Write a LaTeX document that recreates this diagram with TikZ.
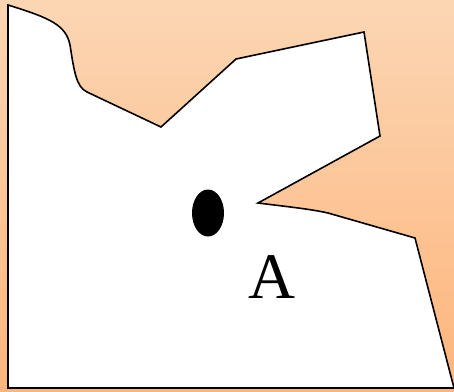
\documentclass[tikz,border=0pt]{standalone}
\usepackage{fontspec}
\setmainfont{Liberation Serif}
\usetikzlibrary{shapes.geometric}
\definecolor{peachtop}{RGB}{252,214,180}
\definecolor{peachmid}{RGB}{249,196,123}
\definecolor{peachbot}{RGB}{253,181,124}
\begin{document}
\begin{tikzpicture}[x=1pt, y=-1pt]
  % Background
  \shade[top color=peachtop, middle color=peachmid, bottom color=peachbot]
    (0,0) rectangle (454,391);
  \useasboundingbox (0,0) rectangle (454,391);

  % Region outline
  \draw[line width=1.6pt, fill=white, line join=miter]
    (8,5) .. controls (50,18) and (66,25) .. (70,45)
    .. controls (74,70) and (76,87) .. (87,92)
    -- (161,127) -- (236,59) -- (364,32) -- (380,136) -- (258,203)
    .. controls (290,207) and (310,209) .. (328,213)
    -- (415,238) -- (454,388) -- (8,388) -- cycle;

  % Hole
  \node[ellipse, fill=black, minimum width=32pt, minimum height=47pt, inner sep=0pt]
    (hole) at (208,213) {};

  % Label
  \node[anchor=base, inner sep=0pt, font=\fontsize{65}{65}\selectfont]
    (label) at (272,298) {A};
\end{tikzpicture}
\end{document}
